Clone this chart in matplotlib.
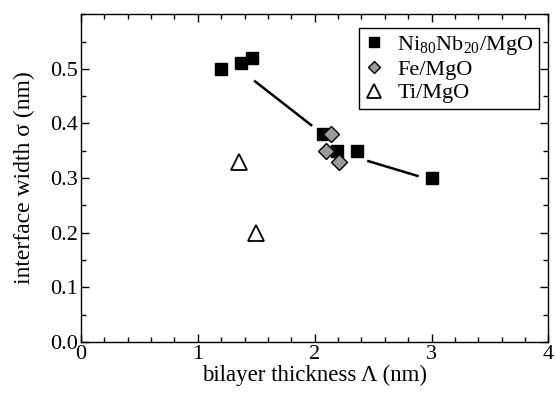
import matplotlib
matplotlib.use("Agg")
import matplotlib.pyplot as plt
from matplotlib.ticker import MultipleLocator, FormatStrFormatter

plt.rcParams['font.family'] = ['Liberation Serif', 'DejaVu Serif']
plt.rcParams['mathtext.fontset'] = 'custom'
plt.rcParams['mathtext.rm'] = 'Liberation Serif'

# Ni80Nb20/MgO multilayers
ninb_x = [1.20, 1.37, 1.46, 2.07, 2.19, 2.36, 3.00]
ninb_y = [0.50, 0.51, 0.52, 0.38, 0.35, 0.35, 0.30]

# Fe/MgO multilayers
fe_x = [2.14, 2.10, 2.21]
fe_y = [0.38, 0.35, 0.33]

# Ti/MgO multilayers
ti_x = [1.35, 1.50]
ti_y = [0.33, 0.20]

# guide-to-the-eye trend line (two visible pieces)
trend1_x = [1.49, 1.97]
trend1_y = [0.477, 0.397]
trend2_x = [2.46, 2.88]
trend2_y = [0.331, 0.304]

fig = plt.figure(figsize=(5.55, 3.94), dpi=100)
ax = fig.add_axes([0.146, 0.132, 0.842, 0.832])

ax.plot(trend1_x, trend1_y, color='black', lw=1.8, zorder=1)
ax.plot(trend2_x, trend2_y, color='black', lw=1.8, zorder=1)

ax.plot(ninb_x, ninb_y, ls='none', marker='s', ms=9, mfc='black', mec='black',
        label=r'Ni$_{80}$Nb$_{20}$/MgO', zorder=3)
ax.plot(fe_x, fe_y, ls='none', marker='D', ms=8, mfc='#9a9a9a', mec='black',
        mew=1.0, label='Fe/MgO', zorder=4)
ax.plot(ti_x, ti_y, ls='none', marker='^', ms=12, mfc='white', mec='black',
        mew=1.3, label='Ti/MgO', zorder=3)

ax.set_xlim(0, 4)
ax.set_ylim(0, 0.6)
ax.set_xticks([0, 1, 2, 3, 4])
ax.set_yticks([0.0, 0.1, 0.2, 0.3, 0.4, 0.5])
ax.yaxis.set_major_formatter(FormatStrFormatter('%.1f'))
ax.xaxis.set_minor_locator(MultipleLocator(0.2))
ax.yaxis.set_minor_locator(MultipleLocator(0.05))
ax.tick_params(which='both', direction='in', top=True, right=True, labelsize=16)
ax.tick_params(which='major', length=6, width=1, pad=2)
ax.tick_params(which='minor', length=3.5, width=1)
for s in ax.spines.values():
    s.set_linewidth(1.0)

ax.set_xlabel('bilayer thickness Λ (nm)', fontsize=16.5, labelpad=1)
ax.set_ylabel('interface width σ (nm)', fontsize=17, labelpad=11)

leg = ax.legend(loc='upper right', bbox_to_anchor=(0.981, 0.957), fontsize=16,
                frameon=True, fancybox=False, edgecolor='black', framealpha=1,
                handlelength=0.9, handletextpad=0.6, borderpad=0.25,
                labelspacing=0.12, borderaxespad=0.0, markerscale=0.8)
leg.get_frame().set_linewidth(1.0)

fig.savefig('out.png', dpi=100)
